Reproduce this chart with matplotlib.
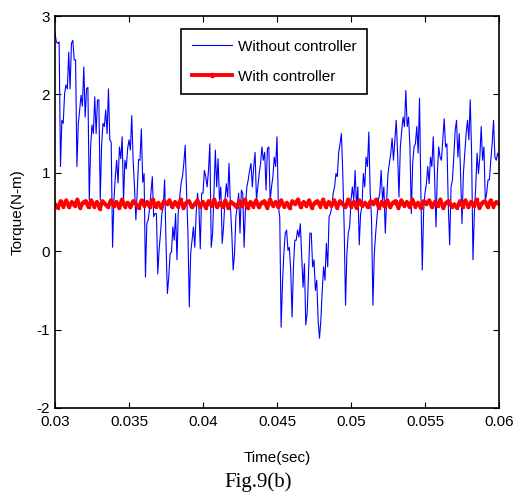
import numpy as np
import matplotlib
matplotlib.use('Agg')
import matplotlib.pyplot as plt

# torque without controller (N-m), evenly spaced in time
torque_without = [
    2.78, 2.67, 2.65, 2.67, 1.08, 1.67, 1.63, 2.01, 2.12, 2.07, 2.54, 2.07, 2.65, 2.69, 2.44, 2.44,
    1.08, 1.63, 1.80, 1.99, 1.85, 2.35, 1.71, 2.07, 2.09, 0.65, 1.33, 1.61, 1.50, 1.97, 1.50, 1.93,
    1.93, 0.65, 1.35, 1.63, 1.59, 1.80, 1.50, 2.07, 1.42, 1.39, 0.05, 0.65, 0.95, 1.16, 0.87, 1.33,
    1.18, 1.46, 0.65, 1.16, 1.05, 1.31, 1.42, 1.29, 1.73, 1.16, 0.82, 0.40, 0.76, 1.17, 1.16, 1.56,
    0.88, 0.99, -0.33, 0.35, 0.40, 0.54, 0.74, 0.95, 0.44, 0.48, 0.48, -0.29, 0.03, 0.23, 0.48, 0.57,
    0.91, 0.10, -0.54, -0.33, -0.03, -0.01, 0.31, 0.14, 0.48, -0.11, 0.52, 0.69, 0.86, 0.95, 1.12, 1.35,
    0.76, 0.23, -0.71, -0.03, 0.14, 0.31, 0.05, 0.48, 0.74, 0.57, 0.03, 0.74, 0.74, 1.03, 0.95,
    0.82, 1.03, 1.37, 0.05, 0.23, 0.74, 1.29, 0.82, 1.18, 0.65, 0.82, 0.10, 0.31, 0.65, 0.86, 0.69,
    1.12, 0.57, 0.23, -0.24, -0.03, 0.44, 0.57, 0.74, 0.23, 0.78, 0.74, 0.05, 0.57, 0.82, 0.91, 1.03,
    1.12, 0.82, 1.08, 1.26, 0.65, 0.82, 0.99, 1.12, 1.33, 1.16, 1.26, 0.78, 1.31, 1.33, 0.65, 0.82,
    0.95, 1.20, 1.08, 1.46, 0.57, 0.44, -0.97, -0.41, -0.03, 0.23, 0.27, 0.01, 0.05, -0.24, -0.84, -0.20,
    0.14, 0.14, 0.27, 0.18, 0.35, -0.07, -0.46, -0.16, -0.94, -0.79, -0.29, 0.23, 0.23, -0.20, -0.11, -0.50,
    -0.37, -0.88, -1.11, -0.88, -0.50, -0.20, -0.37, 0.10, -0.20, 0.44, 0.48, 0.57, 0.74, 0.82, 0.99, 0.95,
    1.26, 1.37, 1.50, 0.99, 0.31, -0.69, -0.03, 0.23, 0.31, 0.65, 0.82,
    0.65, 1.03, 0.57, 0.82, 0.08, 0.48, 0.57, 0.99, 0.82, 1.20, 1.08, 1.52, 0.74, 0.40, -0.69, -0.03,
    0.23, 0.44, 0.65, 0.74, 1.03, 0.65, 0.82, 0.23, 0.65, 0.99, 1.12, 1.25, 1.44, 1.16, 1.42, 1.67,
    1.25, 0.69, 1.33, 1.54, 1.71, 1.59, 2.05, 1.59, 1.71, 1.33, 0.48, 1.12, 1.33, 1.37, 1.59, 1.25,
    1.95, 0.74, -0.24, 0.52, 0.74, 0.86, 1.08, 0.86, 1.20, 1.08, 1.46, 0.95, 0.31, 0.99, 1.33, 1.20,
    1.16, 1.42, 1.69, 1.33, 1.37, 0.57, 0.08, 0.82, 0.91, 1.20, 1.54, 1.67, 1.20, 1.50, 0.95, 0.35,
    0.99, 1.25, 1.50, 1.67, 1.42, 1.93, 1.25, -0.11, 0.48, 0.82, 1.25, 0.99, 1.20, 1.59, 1.16, 1.33,
    0.65, 0.74, 0.91, 0.91, 1.16, 1.37, 1.67, 1.20, 1.16, 1.25, 1.20,
]

# torque with controller (fast ripple around 0.6 N-m)
torque_with = [
    0.60, 0.55, 0.64, 0.57, 0.65, 0.56, 0.63, 0.58, 0.66, 0.55, 0.62, 0.64, 0.56, 0.65, 0.57, 0.63,
    0.54, 0.64, 0.60, 0.56, 0.65, 0.58, 0.63, 0.55, 0.66, 0.57, 0.62, 0.56, 0.64, 0.60, 0.55, 0.65,
    0.58, 0.63, 0.56, 0.66, 0.57, 0.62, 0.55, 0.64, 0.60, 0.65, 0.56, 0.63, 0.57, 0.66, 0.55, 0.62,
    0.64, 0.56, 0.60, 0.65, 0.57, 0.63, 0.55, 0.64, 0.58, 0.66, 0.56, 0.62, 0.57, 0.65, 0.55, 0.63,
    0.60, 0.56, 0.64, 0.58, 0.66, 0.55, 0.63, 0.57, 0.65, 0.56, 0.62, 0.64, 0.55, 0.66, 0.58, 0.63,
    0.56, 0.65, 0.57, 0.62, 0.55, 0.64, 0.60, 0.66, 0.56, 0.63, 0.58, 0.65, 0.55, 0.62, 0.64, 0.57,
    0.66, 0.56, 0.63, 0.58, 0.65, 0.55, 0.64, 0.60, 0.56, 0.66, 0.57, 0.63, 0.55, 0.65, 0.58, 0.62,
    0.56, 0.64, 0.60, 0.66, 0.55, 0.63, 0.57, 0.65, 0.56, 0.62, 0.64, 0.55, 0.65, 0.58, 0.63, 0.56,
    0.66, 0.57, 0.62, 0.55, 0.64, 0.60, 0.65, 0.56, 0.63, 0.58, 0.66, 0.55, 0.62, 0.64, 0.57, 0.60,
    0.55, 0.64, 0.57, 0.65, 0.56, 0.63, 0.58, 0.66, 0.55, 0.62, 0.64, 0.56, 0.65, 0.57, 0.63, 0.60,
]

t_start, t_end = 0.03, 0.06
xticks = [0.03, 0.035, 0.04, 0.045, 0.05, 0.055, 0.06]
xticklabels = ['0.03', '0.035', '0.04', '0.045', '0.05', '0.055', '0.06']
yticks = [-2, -1, 0, 1, 2, 3]

t_without = np.linspace(t_start, t_end, len(torque_without))
t_with = np.linspace(t_start, t_end, len(torque_with))

plt.rcParams['font.family'] = ['Liberation Sans Narrow', 'Liberation Sans', 'DejaVu Sans']
plt.rcParams['axes.unicode_minus'] = False

fig = plt.figure(figsize=(5.17, 4.97), dpi=100)
ax = fig.add_axes([0.1064, 0.1791, 0.8588, 0.7887])

ax.plot(t_without, torque_without, color='#0000ff', lw=0.8, label='Without controller')
ax.plot(t_with, torque_with, color='#ff0000', lw=2.8, marker='.', markersize=3,
        label='With controller')

ax.set_xlim(t_start, t_end)
ax.set_ylim(-2, 3)
ax.set_xticks(xticks)
ax.set_xticklabels(xticklabels)
ax.set_yticks(yticks)
ax.tick_params(direction='in', top=True, right=True, labelsize=11, length=4, width=0.8)
ax.tick_params(axis='x', pad=5)
for s in ax.spines.values():
    s.set_linewidth(1.2)

ax.set_xlabel('Time(sec)', fontsize=11, labelpad=16)
ax.set_ylabel('Torque(N-m)', fontsize=11, labelpad=9)

leg = ax.legend(loc='upper left', bbox_to_anchor=(0.284, 0.967), borderaxespad=0,
                fontsize=11, fancybox=False, handlelength=2.6, framealpha=1,
                edgecolor='black', borderpad=0.7, labelspacing=1.05, handletextpad=0.4)
leg.get_frame().set_linewidth(1.2)
leg.legend_handles[1].set_markersize(6)

fig.text(0.5, 0.03, 'Fig.9(b)', ha='center', va='center', fontsize=15,
         family='Liberation Serif')

fig.savefig('out.png', dpi=100)
